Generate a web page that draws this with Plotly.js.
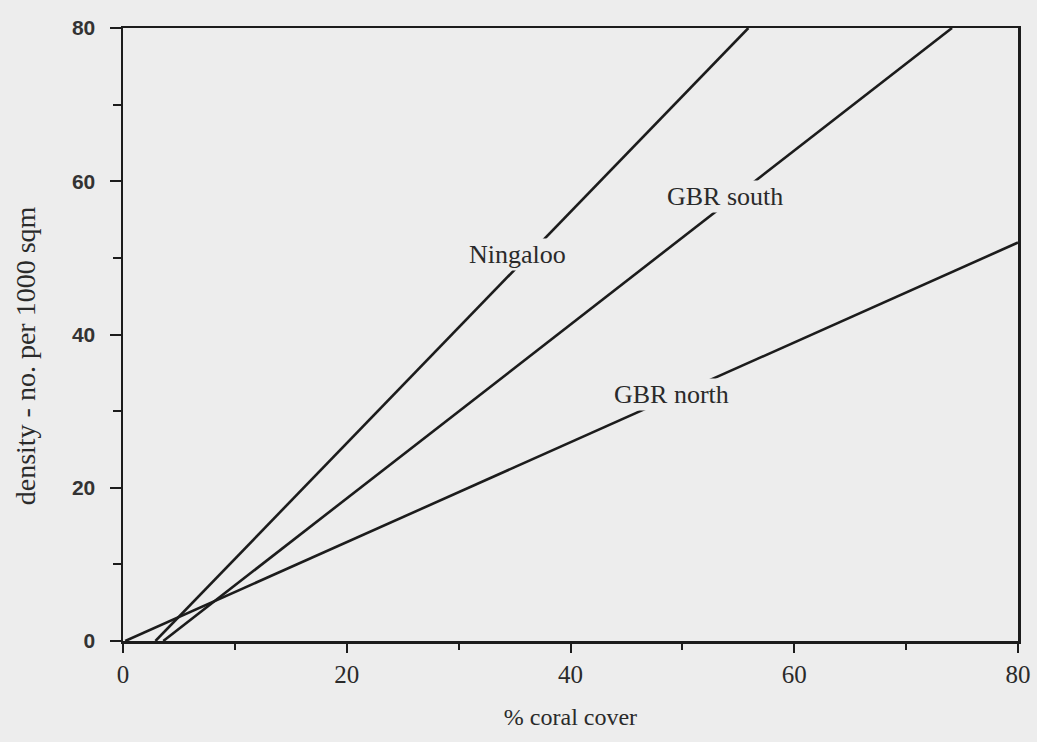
<!DOCTYPE html>
<html>
<head>
<meta charset="utf-8">
<script src="https://cdn.plot.ly/plotly-3.0.1.min.js"></script>
<style>html,body{margin:0;padding:0;background:#ededed;}</style>
</head>
<body>
<div id="chart" style="width:1037px;height:742px;"></div>
<script>
// Fitted lines: endpoints (% coral cover vs density)
const seriesNames = ["Ningaloo", "GBR south", "GBR north"];
const ningalooX = [2.9, 55.9];
const ningalooY = [0, 80];
const gbrSouthX = [3.6, 74.1];
const gbrSouthY = [0, 80];
const gbrNorthX = [0.2, 80];
const gbrNorthY = [0, 52];

// Label anchor positions (data coordinates)
const labelX = [35.3, 53.8, 49.0];
const labelY = [50.4, 58.0, 32.2];

const xTickVals = [0, 20, 40, 60, 80];
const yTickVals = [0, 20, 40, 60, 80];

const lineStyle = {color: "#1c1c1c", width: 2.6};
const bg = "#ededed";
const serif = "Liberation Serif, Times New Roman, serif";

const traces = [
  {x: ningalooX, y: ningalooY, name: seriesNames[0], mode: "lines", line: lineStyle, hoverinfo: "skip"},
  {x: gbrSouthX, y: gbrSouthY, name: seriesNames[1], mode: "lines", line: lineStyle, hoverinfo: "skip"},
  {x: gbrNorthX, y: gbrNorthY, name: seriesNames[2], mode: "lines", line: lineStyle, hoverinfo: "skip"}
];

const annotations = seriesNames.map((n, i) => ({
  x: labelX[i], y: labelY[i], xref: "x", yref: "y",
  text: n, showarrow: false,
  font: {family: serif, size: 26, color: "#2a2a2a"},
  bgcolor: bg, borderpad: 1
}));

annotations.push({
  xref: "paper", yref: "paper", x: -0.108, y: 0.465,
  xanchor: "center", yanchor: "middle",
  text: "density - no. per 1000 sqm", showarrow: false, textangle: -90,
  font: {family: serif, size: 28, color: "#2a2a2a"}
});

const layout = {
  width: 1037, height: 742,
  paper_bgcolor: bg, plot_bgcolor: bg,
  margin: {l: 123, r: 19, t: 28, b: 101},
  showlegend: false,
  xaxis: {
    range: [0, 80], tickvals: xTickVals, ticktext: xTickVals.map(String),
    showgrid: false, zeroline: false,
    showline: true, linecolor: "#1c1c1c", linewidth: 2.5, mirror: true,
    ticks: "outside", ticklen: 9, tickwidth: 2, tickcolor: "#1c1c1c",
    minor: {dtick: 10, tick0: 0, ticks: "outside", ticklen: 6, tickwidth: 2, tickcolor: "#1c1c1c", showgrid: false},
    tickfont: {family: serif, size: 25, color: "#2a2a2a"},
    ticklabelstandoff: 0,
    title: {text: "% coral cover", font: {family: serif, size: 24, color: "#2a2a2a"}, standoff: 22}
  },
  yaxis: {
    range: [0, 80], tickvals: yTickVals, ticktext: yTickVals.map(String),
    showgrid: false, zeroline: false,
    showline: true, linecolor: "#1c1c1c", linewidth: 2.5, mirror: true,
    ticks: "outside", ticklen: 11, tickwidth: 2, tickcolor: "#1c1c1c",
    minor: {dtick: 10, tick0: 0, ticks: "outside", ticklen: 8, tickwidth: 2, tickcolor: "#1c1c1c", showgrid: false},
    tickfont: {family: "Liberation Sans, Arial, sans-serif", size: 21, color: "#333", weight: "bold"},
    ticklabelstandoff: 10
  },
  annotations: annotations
};

Plotly.newPlot("chart", traces, layout, {displayModeBar: false, staticPlot: true});
</script>
</body>
</html>
